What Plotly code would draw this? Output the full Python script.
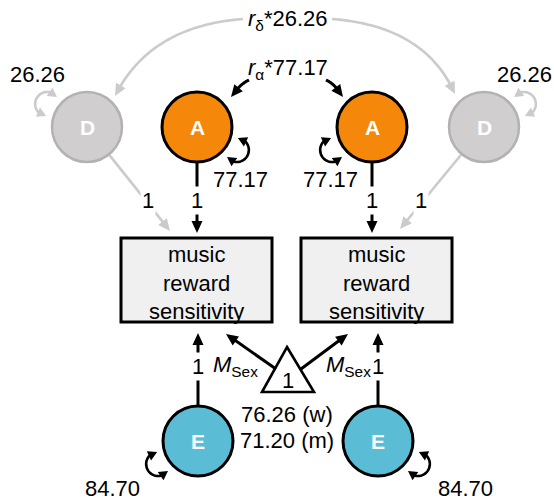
import math
import plotly.graph_objects as go

# ---- model estimates (ADE twin model, music reward sensitivity) ----------
latent_names = ["D", "A", "E"]
latent_variance = [26.26, 77.17, 84.70]
latent_loading = [1, 1, 1]
twin_corr_symbol = ["δ", "α"]
twin_corr_variance = [26.26, 77.17]
sex_groups = ["w", "m"]
sex_means = [76.26, 71.20]
intercept_label = "1"
phenotype_lines = ["music", "reward", "sensitivity"]

# ---- drawing set-up (pixel space) ---------------------------------------
W, H = 554, 501
FONT = "Liberation Sans, Arial, Helvetica, sans-serif"
BLACK = "#000000"
ORANGE = "#f5870a"
BLUE = "#5bbcd6"
D_FILL = "#d0cecf"
D_EDGE = "#b3b1b2"
GREY = "#cbcbcb"
BOX_FILL = "#f0f0f0"
R = 35

node_pos = {
    "D": [(87, 127), (484, 127)],
    "A": [(197, 127), (372, 127)],
    "E": [(198, 441), (378, 441)],
}
node_style = {"D": (D_FILL, D_EDGE, 2.5, GREY),
              "A": (ORANGE, BLACK, 3, BLACK),
              "E": (BLUE, BLACK, 3, BLACK)}
loop_angle = {"D": (210, 330), "A": (30, 150), "E": (150, 30)}
loop_label_pos = {"D": [(37, 74), (524, 74)],
                  "A": [(240, 179), (330, 179)],
                  "E": [(112, 488), (465, 488)]}
boxes = [(121, 238, 272, 322), (301, 238, 452, 322)]

shapes = []
annotations = []


def unit(dx, dy):
    n = math.hypot(dx, dy)
    return dx / n, dy / n


def add_head(tip, direction, color, length=12, width=11):
    ux, uy = unit(*direction)
    bx, by = tip[0] - ux * length, tip[1] - uy * length
    px, py = -uy, ux
    p1 = (bx + px * width / 2, by + py * width / 2)
    p2 = (bx - px * width / 2, by - py * width / 2)
    shapes.append(dict(type="path", xref="x", yref="y",
                       path=f"M{tip[0]:.2f},{tip[1]:.2f} L{p1[0]:.2f},{p1[1]:.2f} "
                            f"L{p2[0]:.2f},{p2[1]:.2f} Z",
                       fillcolor=color, line=dict(width=0)))


def add_polyline(pts, color, width):
    d = "M" + " L".join(f"{x:.2f},{y:.2f}" for x, y in pts)
    shapes.append(dict(type="path", xref="x", yref="y", path=d,
                       fillcolor="rgba(0,0,0,0)",
                       line=dict(color=color, width=width)))


def straight_arrow(p0, tip, color, width=3, hl=12, hw=11):
    ux, uy = unit(tip[0] - p0[0], tip[1] - p0[1])
    end = (tip[0] - ux * hl * 0.7, tip[1] - uy * hl * 0.7)
    add_polyline([p0, end], color, width)
    add_head(tip, (ux, uy), color, hl, hw)


def quad_pt(p0, c, p2, t):
    a, b, g = (1 - t) ** 2, 2 * (1 - t) * t, t ** 2
    return (a * p0[0] + b * c[0] + g * p2[0], a * p0[1] + b * c[1] + g * p2[1])


def curved_arrow(p0, c, tip, color, width=3, hl=12, hw=11):
    pts = [quad_pt(p0, c, tip, i / 60) for i in range(61)]
    shaft = [p for p in pts if math.hypot(p[0] - tip[0], p[1] - tip[1]) > hl * 0.7]
    add_polyline(shaft, color, width)
    ref = [p for p in pts if math.hypot(p[0] - tip[0], p[1] - tip[1]) > hl][-1]
    add_head(tip, (tip[0] - ref[0], tip[1] - ref[1]), color, hl, hw)


def self_loop(center, theta, color, width=2.6):
    th = math.radians(theta)
    ac = (center[0] + (R + 11) * math.cos(th), center[1] + (R + 11) * math.sin(th))
    rho = 12
    span = math.radians(115)
    trim = math.radians(30)

    def at(phi):
        return (ac[0] + rho * math.cos(phi), ac[1] + rho * math.sin(phi))

    a0, a1 = th - span, th + span
    pts = [at(a0 + trim + (a1 - a0 - 2 * trim) * i / 40) for i in range(41)]
    add_polyline(pts, color, width)
    for end, back in ((a0, a0 + math.radians(40)), (a1, a1 - math.radians(40))):
        tip, ref = at(end), at(back)
        add_head(tip, (tip[0] - ref[0], tip[1] - ref[1]), color, 9, 10)


def label(x, y, text, size=22, color=BLACK, bg=None):
    annotations.append(dict(x=x, y=y, xref="x", yref="y", text=text,
                            showarrow=False, xanchor="center", yanchor="middle",
                            font=dict(family=FONT, size=size, color=color),
                            bgcolor=bg if bg else "rgba(0,0,0,0)", borderpad=1))


# ---- twin correlations (top arcs) ---------------------------------------
curved_arrow((243, 19), (150, 26), (115, 96), GREY, width=2.6)
curved_arrow((332, 19), (425, 26), (455, 94), GREY, width=2.6)
label(288, 20, f"<i>r</i><sub>{twin_corr_symbol[0]}</sub>*{twin_corr_variance[0]:.2f}")
curved_arrow((249, 80), (240, 84), (231, 97), BLACK, width=3)
curved_arrow((326, 80), (335, 84), (343, 97), BLACK, width=3)
label(288, 69, f"<i>r</i><sub>{twin_corr_symbol[1]}</sub>*{twin_corr_variance[1]:.2f}")

# ---- phenotype boxes ---------------------------------------------------------
for x0, y0, x1, y1 in boxes:
    shapes.append(dict(type="rect", xref="x", yref="y", x0=x0, y0=y0, x1=x1, y1=y1,
                       fillcolor=BOX_FILL, line=dict(color=BLACK, width=3)))
    label((x0 + x1) / 2, 283, "<br>".join(phenotype_lines))

# ---- loadings onto the phenotype ------------------------------------------
d_tips = [(170, 231), (400, 229)]
d_lbl = [(147.5, 200), (421, 200)]
for k in range(2):
    # D -> phenotype (grey)
    cx, cy = node_pos["D"][k]
    tx, ty = d_tips[k]
    ux, uy = unit(tx - cx, ty - cy)
    straight_arrow((cx + ux * (R + 1), cy + uy * (R + 1)), (tx, ty), GREY, width=2.6)
    label(*d_lbl[k], str(latent_loading[0]), bg="white")
    # A -> phenotype
    ax, ay = node_pos["A"][k]
    straight_arrow((ax, ay + R), (ax, 233), BLACK)
    label(ax, 200, str(latent_loading[1]), bg="white")
    # E -> phenotype
    ex, ey = node_pos["E"][k]
    straight_arrow((ex, ey - R), (ex, 333), BLACK)
    label(ex, 366, str(latent_loading[2]), bg="white")

# ---- mean structure (triangle) ---------------------------------------------
shapes.append(dict(type="path", xref="x", yref="y",
                   path="M287,347 L314,392 L262,392 Z",
                   fillcolor="white", line=dict(color=BLACK, width=2.6)))
label(288, 380, intercept_label)
straight_arrow((276, 369), (226, 334), BLACK)
straight_arrow((301, 369), (348, 334), BLACK)
label(235, 366, "<i>M</i><sub>Sex</sub>")
label(348, 366, "<i>M</i><sub>Sex</sub>")
for i, (m, g) in enumerate(zip(sex_means, sex_groups)):
    label(287, 414 + 26 * i, f"{m:.2f} ({g})")

# ---- latent nodes with their variances -------------------------------------
for name, var in zip(latent_names, latent_variance):
    fill, edge, lw, loop_col = node_style[name]
    for k, (cx, cy) in enumerate(node_pos[name]):
        self_loop((cx, cy), loop_angle[name][k], loop_col)
        shapes.append(dict(type="circle", xref="x", yref="y",
                           x0=cx - R, x1=cx + R, y0=cy - R, y1=cy + R,
                           fillcolor=fill, line=dict(color=edge, width=lw)))
        label(cx, cy, f"<b>{name}</b>", size=21, color="white")
        label(*loop_label_pos[name][k], f"{var:.2f}")

fig = go.Figure()
fig.update_layout(
    width=W, height=H,
    margin=dict(l=0, r=0, t=0, b=0),
    paper_bgcolor="white", plot_bgcolor="white",
    xaxis=dict(range=[0, W], visible=False, fixedrange=True),
    yaxis=dict(range=[H, 0], visible=False, fixedrange=True),
    shapes=shapes, annotations=annotations, showlegend=False,
)
fig.write_html("out.html", config={"displayModeBar": False})
